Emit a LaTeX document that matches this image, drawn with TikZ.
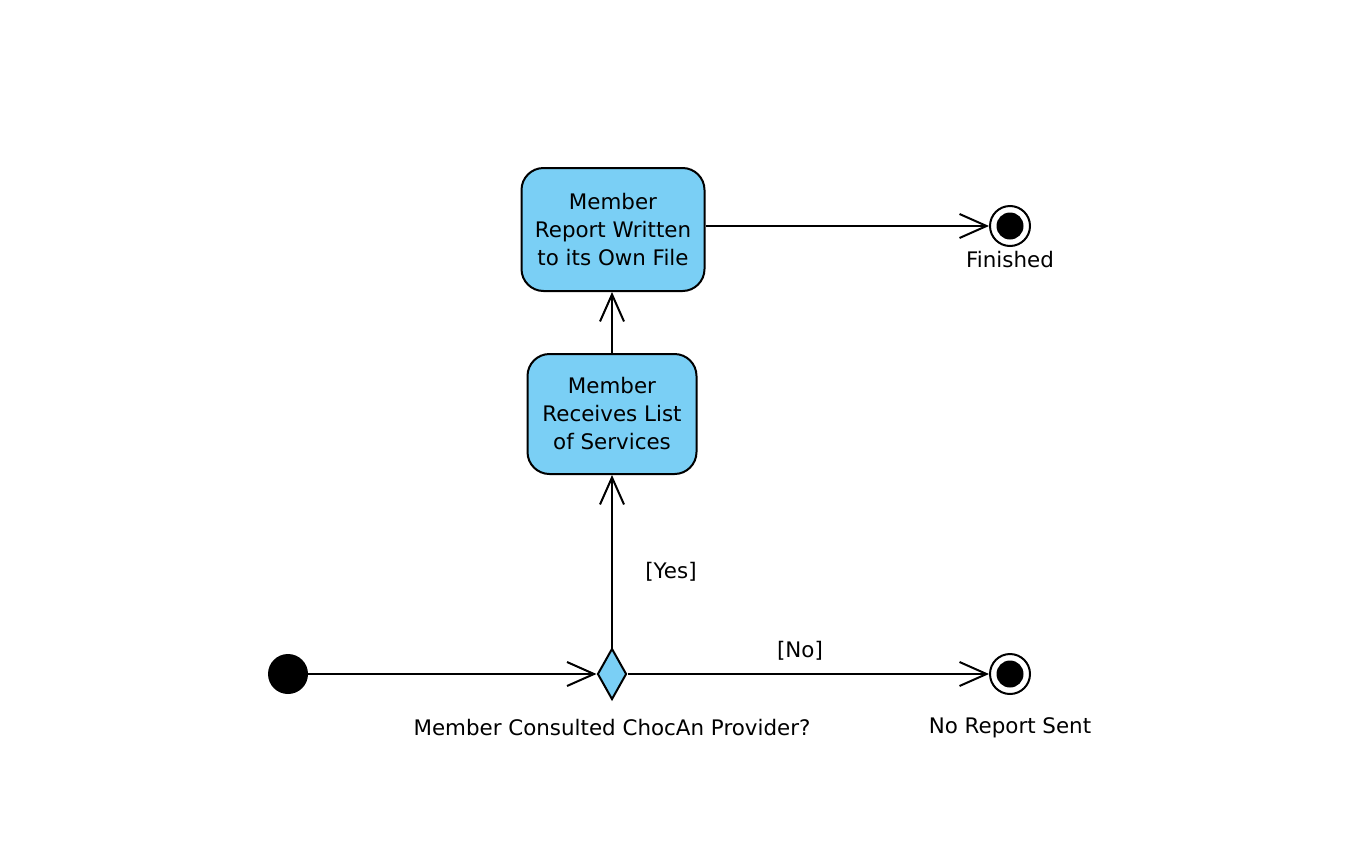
\documentclass[tikz,border=0pt]{standalone}
\usepackage{fontspec}
\setmainfont{DejaVu Sans}
\usetikzlibrary{arrows.meta,shapes.geometric}
\definecolor{actfill}{RGB}{122,207,245}
\begin{document}
\begin{tikzpicture}[x=1pt,y=-1pt,
  every node/.style={font=\fontsize{21.4}{28}\selectfont},
  action/.style={draw,line width=2pt,fill=actfill,rounded corners=22pt,align=center,inner sep=0pt},
  decision/.style={draw,line width=2pt,fill=actfill,diamond,minimum width=29pt,minimum height=51pt,inner sep=0pt,aspect=0.57},
  flow/.style={line width=2pt,-{Straight Barb[length=27pt,width=24pt,line width=2pt]}},
  lbl/.style={inner sep=0pt,anchor=base}]
\useasboundingbox (0,0) rectangle (1356,846);
\node[action,minimum width=183pt,minimum height=123pt] (write) at (613,229.5) {Member\\Report Written\\to its Own File};
\node[action,minimum width=169pt,minimum height=120pt] (recv) at (612,414) {Member\\Receives List\\of Services};
\node[decision] (dec) at (612,674) {};
\node[circle,fill=black,minimum size=40pt,inner sep=0pt] (init) at (288,674) {};
\node[circle,draw,line width=2pt,minimum size=40pt,inner sep=0pt] (fin) at (1010,226) {};
\node[circle,fill=black,minimum size=27pt,inner sep=0pt] at (fin) {};
\node[circle,draw,line width=2pt,minimum size=40pt,inner sep=0pt] (norep) at (1010,674) {};
\node[circle,fill=black,minimum size=27pt,inner sep=0pt] at (norep) {};
\node[lbl] (finl) at (1010,267) {Finished};
\node[lbl] (norepl) at (1010,733) {No Report Sent};
\node[lbl] (decl) at (612,735) {Member Consulted ChocAn Provider?};
\node[lbl] (yes) at (671,578) {[Yes]};
\node[lbl] (no) at (800,657) {[No]};
\draw[flow] (init) -- (dec);
\draw[flow] (dec) -- (recv.south -| dec);
\draw[flow] (recv.north -| dec) -- (write.south -| dec);
\draw[flow] (write.east |- fin) -- (fin);
\draw[flow] (dec) -- (norep);
\end{tikzpicture}
\end{document}
